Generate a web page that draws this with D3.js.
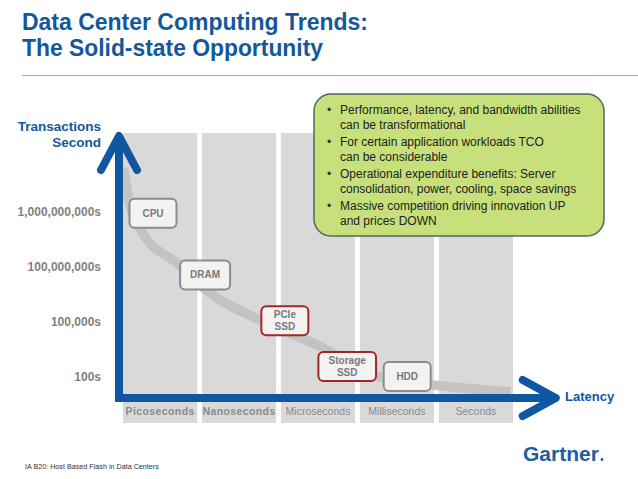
<!DOCTYPE html>
<html>
<head>
<meta charset="utf-8">
<script src="https://cdn.jsdelivr.net/npm/d3@7"></script>
<style>
  body { margin: 0; background: #fff; }
  svg { display: block; font-family: "Liberation Sans", Arial, sans-serif; }
</style>
</head>
<body>
<svg id="chart" width="638" height="479"></svg>
<script>
// latency bands along the bottom, transaction levels up the side
const latencyBands = ["Picoseconds", "Nanoseconds", "Microseconds", "Milliseconds", "Seconds"];
const rateTicks = ["1,000,000,000s", "100,000,000s", "100,000s", "100s"];

// technologies: position in band units (x) and tick-level units (y)
const techNames = [["CPU"], ["DRAM"], ["PCIe", "SSD"], ["Storage", "SSD"], ["HDD"]];
const techLatency = [0.38, 1.04, 2.05, 2.84, 3.60];
const techRate = [0.03, 1.15, 1.98, 2.81, 2.99];
const techFlash = [false, false, true, true, false];

// the grey trend band behind the boxes
const curveLatency = [0.01, 0.06, 0.25, 0.68, 1.10, 1.74, 2.46, 3.26, 4.02, 4.91];
const curveRate = [-0.79, -0.30, 0.39, 0.93, 1.48, 1.97, 2.42, 3.00, 3.16, 3.27];

const bullets = [
  ["Performance, latency, and bandwidth abilities", "can be transformational"],
  ["For certain application workloads TCO", "can be considerable"],
  ["Operational expenditure benefits: Server", "consolidation, power, cooling, space savings"],
  ["Massive competition driving innovation UP", "and prices DOWN"]
];

const blue = "#0f57a0";
const svg = d3.select("#chart");

// title
const title = svg.append("g").attr("fill", "#13589c").attr("font-weight", "bold").attr("font-size", 23);
title.append("text").attr("x", 22).attr("y", 30).attr("textLength", 346).attr("lengthAdjust", "spacingAndGlyphs")
  .text("Data Center Computing Trends:");
title.append("text").attr("x", 22).attr("y", 56).attr("textLength", 301).attr("lengthAdjust", "spacingAndGlyphs")
  .text("The Solid-state Opportunity");
svg.append("line").attr("x1", 22).attr("x2", 638).attr("y1", 75.5).attr("y2", 75.5)
  .attr("stroke", "#9aaabb").attr("stroke-width", 1);

// scales
const x = d3.scaleBand().domain(latencyBands).range([123, 513]).paddingInner(0.06);
const xPos = d3.scaleLinear().domain([0, latencyBands.length]).range([123, 123 + latencyBands.length * x.step()]);
const y = d3.scalePoint().domain(rateTicks).range([211.5, 377]);
const yPos = d3.scaleLinear().domain([0, rateTicks.length - 1]).range(y.range());

const colTop = 133, colBottom = 423, axisY = 398, axisX = 119;
const xEnd = xPos(latencyBands.length);

// grey columns
svg.append("g").selectAll("rect").data(latencyBands).join("rect")
  .attr("x", d => x(d)).attr("y", colTop)
  .attr("width", x.bandwidth()).attr("height", colBottom - colTop)
  .attr("fill", "#d9d9d9");

// trend band
const pts = curveLatency.map((v, i) => [v, curveRate[i]]);
svg.append("path").datum(pts)
  .attr("fill", "none").attr("stroke", "#c3c3c3").attr("stroke-width", 9.5)
  .attr("d", d3.line().x(d => xPos(d[0])).y(d => yPos(d[1])).curve(d3.curveMonotoneX));

// column labels
const xAxis = svg.append("g").attr("transform", `translate(0,${axisY})`)
  .call(d3.axisBottom(x).tickSize(0).tickPadding(10));
xAxis.select(".domain").remove();
xAxis.selectAll("text")
  .attr("fill", "#8a8a8a").attr("font-size", 10.5)
  .attr("font-family", "'Liberation Sans', Arial, sans-serif")
  .attr("font-weight", (d, i) => i < 2 ? "bold" : "normal")
  .attr("letter-spacing", (d, i) => i < 2 ? 0.4 : 0);

// rate labels
const yAxis = svg.append("g").attr("transform", `translate(${axisX},0)`)
  .call(d3.axisLeft(y).tickSize(0).tickPadding(18));
yAxis.select(".domain").remove();
yAxis.selectAll("text")
  .attr("fill", "#7f7f7f").attr("font-size", 12).attr("font-weight", "bold")
  .attr("font-family", "'Liberation Sans', Arial, sans-serif");

// axis lines with chevron heads
svg.append("path")
  .attr("d", `M${axisX},${colTop + 4}V${axisY}H${xEnd + 36}`)
  .attr("fill", "none").attr("stroke", blue).attr("stroke-width", 8).attr("stroke-linejoin", "miter");
svg.append("path")
  .attr("d", `M${axisX - 18},170L${axisX},${colTop + 3}L${axisX + 18},170`)
  .attr("fill", "none").attr("stroke", blue).attr("stroke-width", 8)
  .attr("stroke-linecap", "round").attr("stroke-linejoin", "round");
svg.append("path")
  .attr("d", `M${xEnd + 5},${axisY - 18}L${xEnd + 38},${axisY}L${xEnd + 5},${axisY + 18}`)
  .attr("fill", "none").attr("stroke", blue).attr("stroke-width", 8)
  .attr("stroke-linecap", "round").attr("stroke-linejoin", "round");

svg.append("text").attr("x", 101).attr("y", 131).attr("text-anchor", "end")
  .attr("fill", "#13589c").attr("font-size", 13.5).attr("font-weight", "bold").text("Transactions");
svg.append("text").attr("x", 101).attr("y", 147).attr("text-anchor", "end")
  .attr("fill", "#13589c").attr("font-size", 13.5).attr("font-weight", "bold").text("Second");
svg.append("text").attr("x", 565).attr("y", 401)
  .attr("fill", "#13589c").attr("font-size", 13).attr("font-weight", "bold").text("Latency");

// technology boxes
const nodes = svg.append("g").selectAll("g").data(techNames).join("g")
  .attr("transform", (d, i) => `translate(${xPos(techLatency[i])},${yPos(techRate[i])})`);
nodes.each(function(lines, i) {
  const g = d3.select(this);
  const rect = g.append("rect");
  const t = g.append("text").attr("text-anchor", "middle")
    .attr("fill", "#7a7a7a").attr("font-size", 10).attr("font-weight", "bold");
  lines.forEach((l, j) => {
    t.append("tspan").attr("x", 0)
      .attr("y", (j - (lines.length - 1) / 2) * 12 + 3.5).text(l);
  });
  const w = Math.max(t.node().getBBox().width + 20, 47);
  rect.attr("x", -w / 2).attr("y", -14.5).attr("width", w).attr("height", 29).attr("rx", 5)
    .attr("fill", "#f2f2f2")
    .attr("stroke", techFlash[i] ? "#a0262a" : "#8c8c8c").attr("stroke-width", 2);
});

// callout
const call = svg.append("g");
call.append("rect").attr("x", 314).attr("y", 94).attr("width", 290).attr("height", 142).attr("rx", 17)
  .attr("fill", "#c7e07c").attr("stroke", "#4d6a5c").attr("stroke-width", 1.5);
bullets.forEach((b, i) => {
  const by = 114 + i * 32;
  call.append("text").attr("x", 327).attr("y", by).attr("font-size", 12).attr("fill", "#333").text("•");
  b.forEach((l, j) => {
    call.append("text").attr("x", 340).attr("y", by + j * 15)
      .attr("font-size", 12).attr("fill", "#222").text(l);
  });
});

// footer
svg.append("text").attr("x", 25).attr("y", 469).attr("font-size", 7.2).attr("fill", "#333")
  .text("IA B20: Host Based Flash in Data Centers");
svg.append("text").attr("x", 523).attr("y", 461).attr("font-size", 21).attr("font-weight", "bold")
  .attr("fill", "#1d5f9f").text("Gartner");
svg.append("circle").attr("cx", 602).attr("cy", 459.5).attr("r", 1.4).attr("fill", "#1d5f9f");
</script>
</body>
</html>
